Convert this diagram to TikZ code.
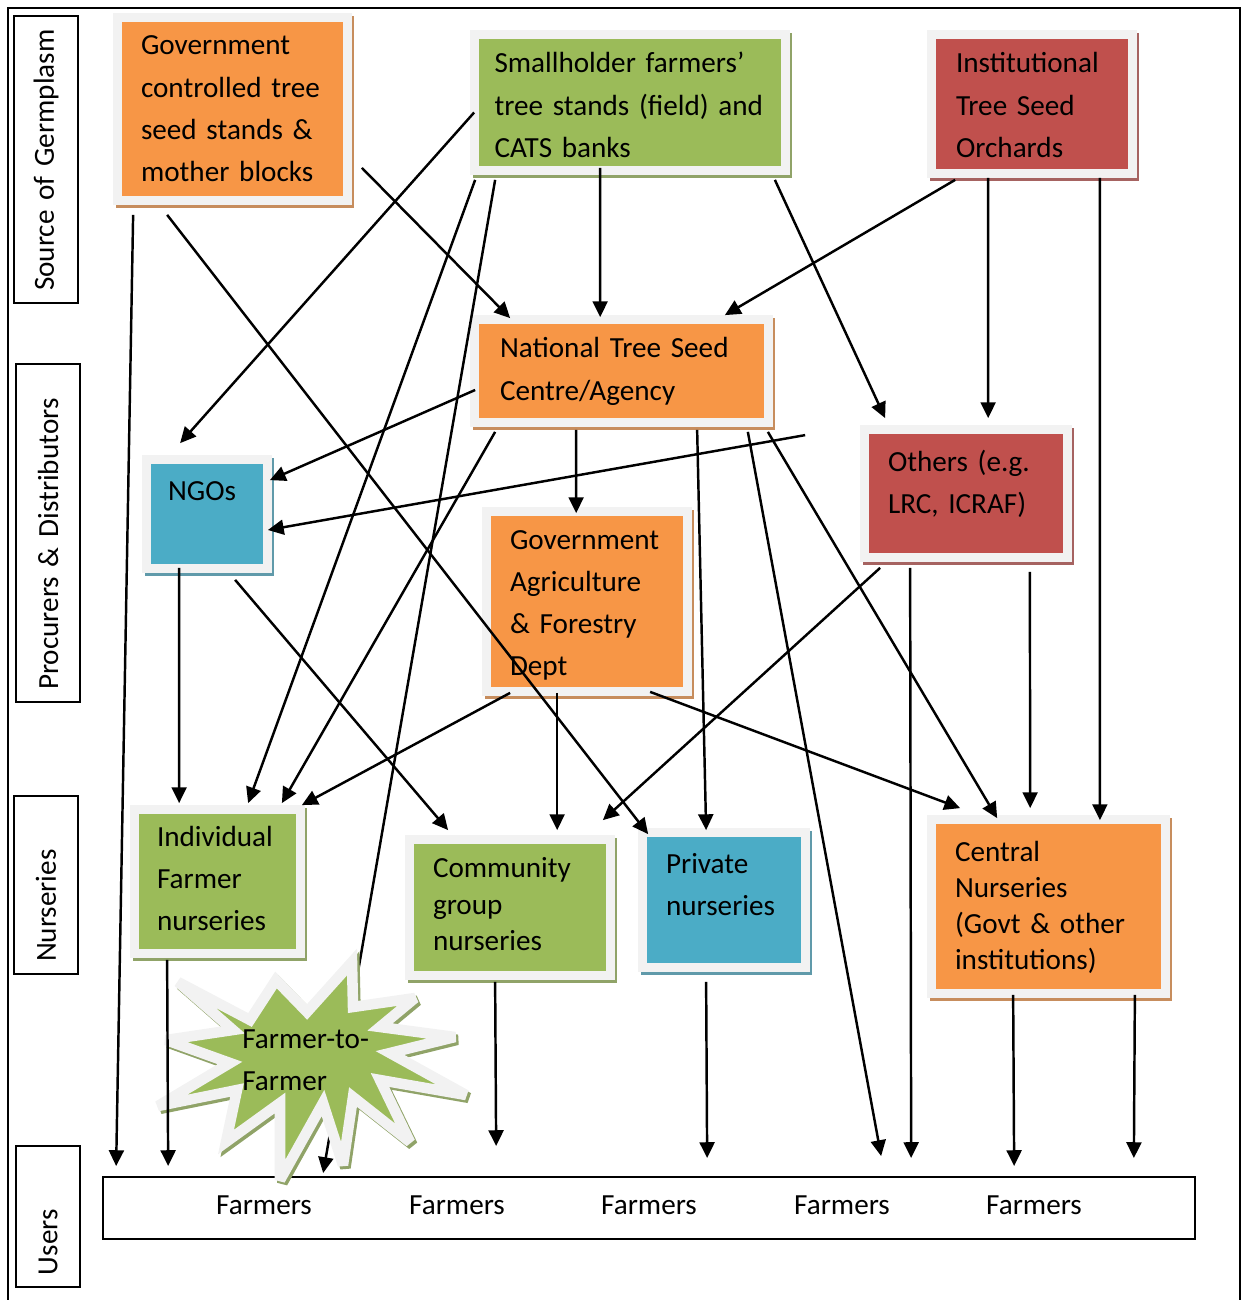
\documentclass[tikz,border=0pt]{standalone}
\usepackage{fontspec}
\setmainfont{Carlito}
\usetikzlibrary{calc,arrows.meta}
\definecolor{SeedOrange}{HTML}{F79646}
\definecolor{SeedGreen}{HTML}{9BBB59}
\definecolor{SeedRed}{HTML}{C0504D}
\definecolor{SeedBlue}{HTML}{4BACC6}
\definecolor{FrameGray}{HTML}{F2F2F2}
\newcommand{\boxfont}{\fontsize{16.6}{24}\selectfont}
\newcommand{\tightfont}{\fontsize{16.6}{20.5}\selectfont}
\tikzset{
  seedbox/.style={
    rectangle,
    fill=#1,
    draw=FrameGray,
    line width=5pt,
    preaction={draw=#1!60!gray, line width=5pt,
      transform canvas={shift={(1.4pt,-1.6pt)}}},
    inner sep=0pt,
    align=left,
    text height=12pt,
    font=\boxfont
  },
  rowlabel/.style={
    draw,
    line width=1.1pt,
    rotate=90,
    minimum height=1.28cm,
    inner sep=0pt,
    align=left,
    font=\boxfont
  },
  burstfill/.style={
    fill=SeedGreen,
    draw=FrameGray,
    line width=6pt,
    miter limit=3.5,
    preaction={draw=SeedGreen!60!gray, line width=6pt, miter limit=3.5,
      transform canvas={shift={(1.4pt,-1.6pt)}}}
  },
  flow/.style={line width=1.4pt, -{Triangle[length=9pt,width=8.5pt]}}
}

\begin{document}
\begin{tikzpicture}[x=0.02cm, y=-0.02cm]
  \useasboundingbox (0,0) rectangle (1243,1300);
  \draw[line width=1.3pt] (8,1300) -- (8,8) -- (1240,8) -- (1240,1300);

  % row labels
  \node[rowlabel, minimum width=5.74cm, text width=5.26cm] (sourcelbl) at (46,159.5) {Source of Germplasm};
  \node[rowlabel, minimum width=6.76cm, text width=6.28cm] (procurelbl) at (48,533) {Procurers \& Distributors};
  \node[rowlabel, minimum width=3.56cm, text width=3.08cm] (nurserylbl) at (46,885) {Nurseries};
  \node[rowlabel, minimum width=2.82cm, text width=2.34cm] (userlbl) at (48,1216.5) {Users};

  % sources
  \node[seedbox=SeedOrange, minimum width=4.60cm, minimum height=3.66cm, text width=3.66cm, text depth=73.5pt]
    (govstand) at (232.5,109) {Government\\controlled tree\\seed stands \&\\mother blocks};
  \node[seedbox=SeedGreen, minimum width=6.22cm, minimum height=2.72cm, text width=5.42cm, text depth=45.6pt]
    (smallholder) at (630,102.5) {Smallholder farmers’\\tree stands (field) and\\CATS banks};
  \node[seedbox=SeedRed, minimum width=4.02cm, minimum height=2.78cm, text width=3.04cm, text depth=47.3pt]
    (institution) at (1032,104) {Institutional\\Tree Seed\\Orchards};

  % procurers and distributors
  \node[seedbox=SeedOrange, minimum width=5.88cm, minimum height=2.06cm, text width=4.86cm, text depth=26.8pt]
    (ntsc) at (621.5,371) {National Tree Seed\\Centre/Agency};
  \node[seedbox=SeedBlue, minimum width=2.42cm, minimum height=2.18cm, text width=1.56cm, text depth=27.9pt]
    (ngos) at (207,514) {NGOs};
  \node[seedbox=SeedRed, minimum width=4.06cm, minimum height=2.56cm, text width=3.12cm, text depth=37.6pt]
    (others) at (966,493.5) {Others (e.g.\\LRC, ICRAF)};
  \node[seedbox=SeedOrange, minimum width=4.02cm, minimum height=3.60cm, text width=3.08cm, text depth=71.7pt]
    (govagric) at (587,601.5) {Government\\Agriculture\\\& Forestry\\Dept};

  % nurseries
  \node[seedbox=SeedGreen, minimum width=3.32cm, minimum height=2.88cm, text width=2.42cm, text depth=52.4pt]
    (individual) at (217.5,881.5) {Individual\\Farmer\\nurseries};
  \node[seedbox=SeedGreen, font=\tightfont, minimum width=4.02cm, minimum height=2.72cm, text width=3.08cm, text depth=45.6pt]
    (community) at (510,907.5) {Community\\group\\nurseries};
  \node[seedbox=SeedBlue, minimum width=3.26cm, minimum height=2.70cm, text width=2.32cm, text depth=42.7pt]
    (private) at (724,900) {Private\\nurseries};
  \node[seedbox=SeedOrange, font=\tightfont, minimum width=4.68cm, minimum height=3.48cm, text width=3.74cm, text depth=63.8pt]
    (central) at (1048.5,906.5) {Central\\Nurseries\\(Govt \& other\\institutions)};

  % users
  \node[draw, line width=1.1pt, minimum width=21.84cm, minimum height=1.24cm] (users) at (649,1208) {};
  \node[font=\boxfont] (farmers1) at (264,1205) {Farmers};
  \node[font=\boxfont] (farmers2) at (457,1205) {Farmers};
  \node[font=\boxfont] (farmers3) at (649,1205) {Farmers};
  \node[font=\boxfont] (farmers4) at (842,1205) {Farmers};
  \node[font=\boxfont] (farmers5) at (1034,1205) {Farmers};

  % flows out of the sources
  \draw[flow] ($(govstand.south west)+(20,10)$) -- ($(users.north west)+(14,-10)$);
  \draw[flow] ($(govstand.south west)+(54,10)$) -- ($(private.north west)+(10,6)$);
  \draw[flow] ($(govstand.south east)+(10,-37)$) -- ($(ntsc.north west)+(40,3)$);
  \draw[flow] ($(smallholder.west)+(4,10)$) -- ($(ngos.north west)+(38,-12)$);
  \draw[flow] ($(smallholder.south west)+(5,5)$) -- ($(individual.north west)+(118,-2)$);
  \draw[flow] ($(smallholder.south west)+(25,5)$) -- ($(users.north west)+(221,-3)$);
  \draw[flow] ($(smallholder.south west)+(130,-7)$) -- ($(ntsc.north west)+(130,2)$);
  \draw[flow] ($(smallholder.south east)+(-15,5)$) -- ($(others.north west)+(25,-7)$);
  \draw[flow] ($(institution.south west)+(28,2)$) -- ($(ntsc.north east)+(-48,0)$);
  \draw[flow] ($(institution.south west)+(61,0)$) -- ($(others.north west)+(128,-7)$);
  \draw[flow] ($(institution.south east)+(-37,0)$) -- ($(central.north east)+(-70,5)$);

  % flows out of the procurers
  \draw[flow] ($(ntsc.west)+(5,19)$) -- ($(ngos.north east)+(-2,25)$);
  \draw[flow] ($(ntsc.south west)+(25,5)$) -- ($(individual.north east)+(-23,-2)$);
  \draw[flow] ($(ntsc.south west)+(106,3)$) -- ($(govagric.north west)+(94,6)$);
  \draw[flow] ($(ntsc.south west)+(227,3)$) -- ($(private.north west)+(68,2)$);
  \draw[flow] ($(ntsc.south east)+(-25,5)$) -- ($(users.north west)+(779,-20)$);
  \draw[flow] ($(ntsc.south east)+(-5,5)$) -- ($(central.north west)+(70,3)$);
  \draw[flow] ($(others.north west)+(-55,10)$) -- ($(ngos.east)+(-4,16)$);
  \draw[flow] ($(others.south west)+(20,6)$) -- ($(community.north east)+(-12,-15)$);
  \draw[flow] ($(others.south west)+(50,6)$) -- ($(users.north west)+(809,-18)$);
  \draw[flow] ($(others.south east)+(-42,10)$) -- ($(central.north west)+(103,-7)$);
  \draw[flow] ($(ngos.south west)+(37,-5)$) -- ($(individual.north west)+(49,-2)$);
  \draw[flow] ($(ngos.south west)+(93,7)$) -- ($(community.north west)+(43,-5)$);
  \draw[flow] ($(govagric.south west)+(28,-3)$) -- ($(individual.north east)+(-3,0)$);
  \draw[flow] ($(govagric.south west)+(75,-3)$) -- ($(community.north west)+(152,-5)$);
  \draw[flow] ($(govagric.south west)+(168,-4)$) -- ($(central.north west)+(33,-7)$);

  % flows out of the nurseries
  \draw[flow] ($(community.south west)+(90,2)$) -- ($(users.north west)+(394,-30)$);
  \draw[flow] ($(private.south west)+(68,10)$) -- ($(users.north west)+(605,-18)$);
  \draw[flow] ($(central.south west)+(86,-3)$) -- ($(users.north west)+(912,-10)$);
  \draw[flow] ($(central.south east)+(-35,-3)$) -- ($(users.north east)+(-62,-18)$);

  % farmer-to-farmer burst
  \draw[burstfill] (178,982) -- (250,1020) -- (276,980) -- (307,1012) -- (352,962)
    -- (353,1007) -- (415,998) -- (380,1027) -- (455,1037) -- (390,1053)
    -- (466,1095) -- (380,1080) -- (410,1142) -- (353,1097) -- (343,1165)
    -- (323,1103) -- (280,1180) -- (280,1103) -- (226,1142) -- (237,1090)
    -- (158,1106) -- (230,1063) -- (166,1040) -- (233,1030) -- cycle;
  \node[font=\boxfont, align=left, anchor=west, inner sep=0pt] (farmer2farmer) at (242,1060) {Farmer-to-\\Farmer};
  \draw[flow] ($(individual.south west)+(37,2)$) -- ($(users.north west)+(66,-10)$);
\end{tikzpicture}
\end{document}
